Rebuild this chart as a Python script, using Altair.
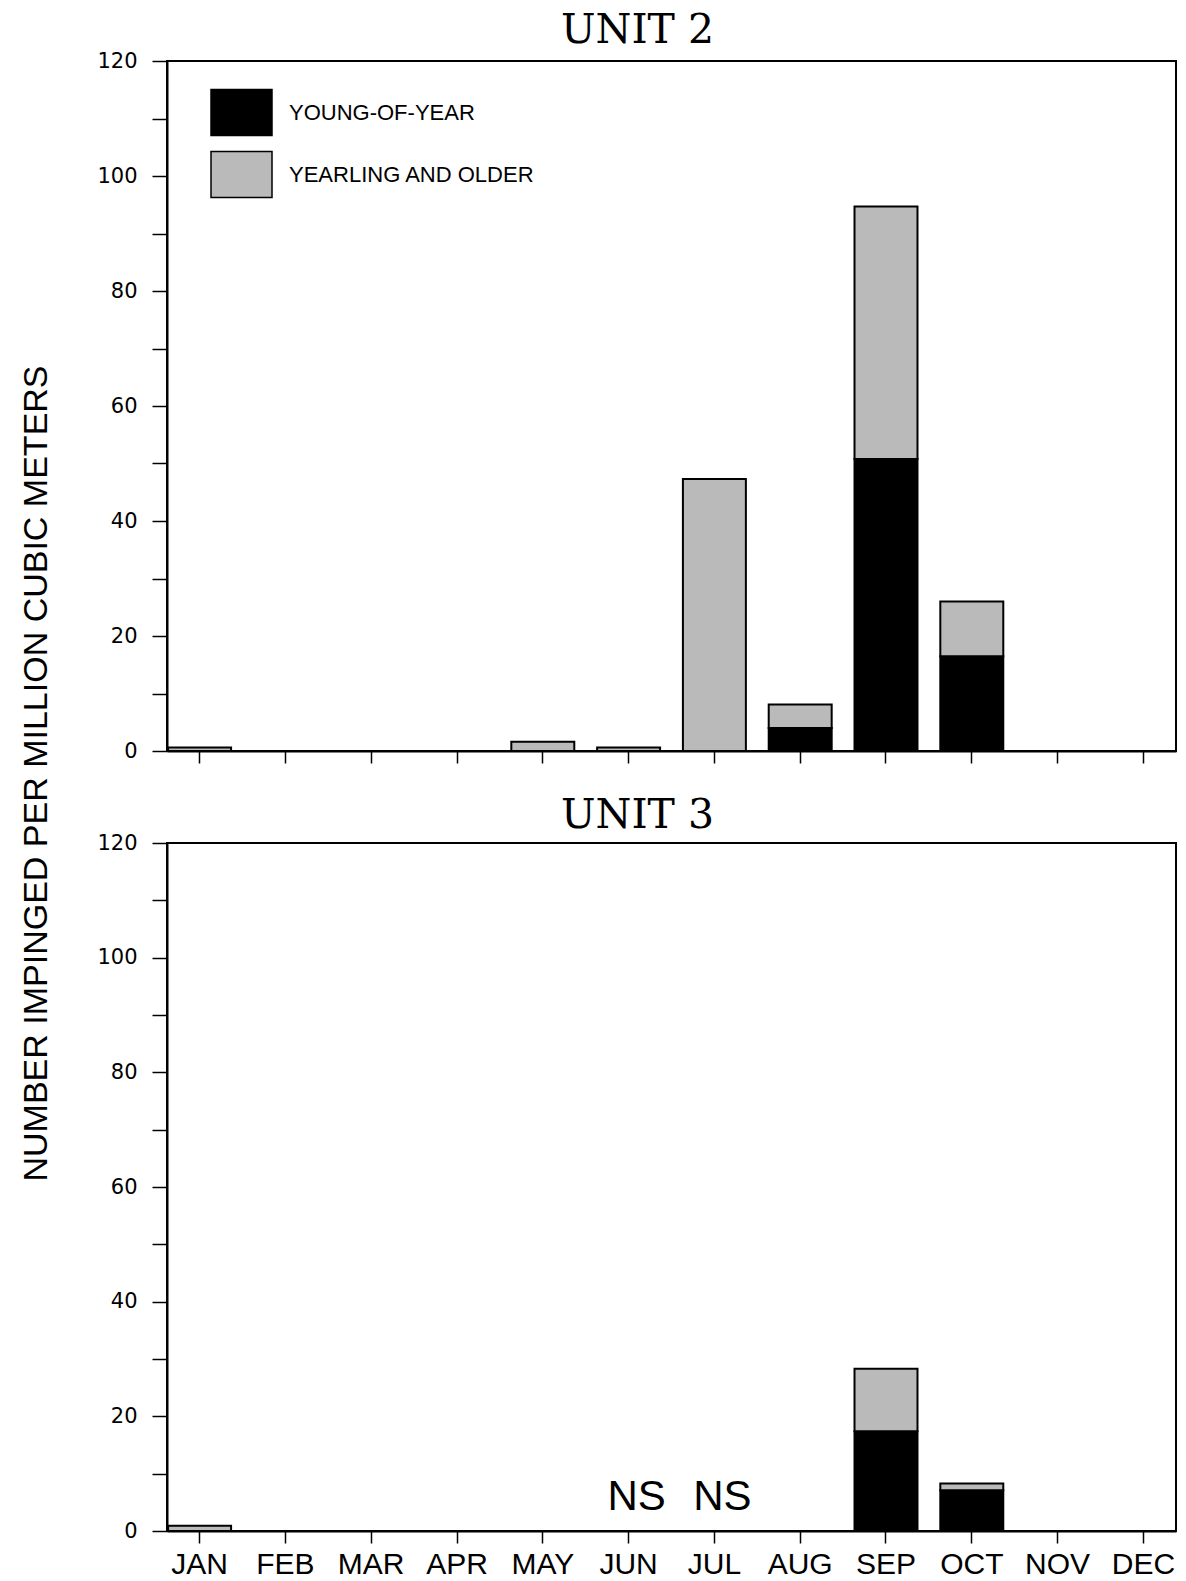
import altair as alt
import pandas as pd

months = ["JAN", "FEB", "MAR", "APR", "MAY", "JUN", "JUL", "AUG", "SEP", "OCT", "NOV", "DEC"]
stages = ["YOUNG-OF-YEAR", "YEARLING AND OLDER"]

unit2_yoy = [0, 0, 0, 0, 0, 0, 0, 4.0, 50.8, 16.5, 0, 0]
unit2_older = [0.6, 0, 0, 0, 1.6, 0.6, 47.3, 4.1, 43.9, 9.5, 0, 0]

unit3_yoy = [0, 0, 0, 0, 0, 0, 0, 0, 17.4, 7.1, 0, 0]
unit3_older = [0.9, 0, 0, 0, 0, 0, 0, 0, 10.9, 1.2, 0, 0]

ns_months = ["JUN", "JUL"]
y_ticks = [0, 10, 20, 30, 40, 50, 60, 70, 80, 90, 100, 110, 120]
y_title = "NUMBER IMPINGED PER MILLION CUBIC METERS"


def make_frame(yoy, older):
    rows = []
    for m, a, b in zip(months, yoy, older):
        if a > 0:
            rows.append({"month": m, "stage": stages[0], "value": a, "ord": 0})
        if b > 0:
            rows.append({"month": m, "stage": stages[1], "value": b, "ord": 1})
    return pd.DataFrame(rows)


def x_enc(show_labels):
    return alt.X(
        "month:N",
        sort=months,
        scale=alt.Scale(domain=months, paddingInner=0.266, paddingOuter=0.013),
        axis=alt.Axis(
            title=None,
            labels=show_labels,
            labelAngle=0,
            labelFont="Liberation Sans",
            labelFontSize=30,
            labelColor="black",
            labelPadding=6,
            tickSize=12,
            tickColor="black",
            tickWidth=1.5,
            domainColor="black",
            domainWidth=2,
        ),
    )


def y_enc(with_title):
    kw = dict(
        values=y_ticks,
        labelExpr="datum.value % 20 == 0 ? datum.label : ''",
        labelFont="DejaVu Sans",
        labelFontSize=21,
        labelColor="black",
        labelPadding=15,
        tickSize=15,
        tickColor="black",
        tickWidth=1.5,
        domainColor="black",
        domainWidth=2,
        grid=False,
    )
    if with_title:
        kw.update(
            title=y_title,
            titleFont="Liberation Sans",
            titleFontSize=34,
            titleFontWeight="normal",
            titleColor="black",
            titleAngle=270,
            titleAlign="center",
            titleBaseline="alphabetic",
            titleX=-121,
            titleY=712,
        )
    else:
        kw.update(title=None)
    return alt.Y(
        "value:Q",
        stack="zero",
        scale=alt.Scale(domain=[0, 120], nice=False),
        axis=alt.Axis(**kw),
    )


def color_enc(show_legend):
    legend = None
    if show_legend:
        legend = alt.Legend(
            title=None,
            orient="none",
            legendX=43,
            legendY=20,
            padding=0,
            symbolType="M-1,-0.754H1V0.754H-1Z",
            symbolSize=3721,
            symbolStrokeColor="black",
            symbolStrokeWidth=1.5,
            symbolOpacity=1,
            labelFont="Liberation Sans",
            labelFontSize=22,
            labelColor="black",
            labelOffset=16,
            labelLimit=500,
            rowPadding=4,
        )
    return alt.Color(
        "stage:N",
        scale=alt.Scale(domain=stages, range=["black", "#bababa"]),
        legend=legend,
    )


def title(text, dy):
    return alt.TitleParams(
        text,
        font="DejaVu Serif",
        fontSize=41,
        fontWeight="normal",
        color="black",
        anchor="middle",
        dx=-34,
        dy=dy,
        offset=0,
        baseline="alphabetic",
    )


bars2 = (
    alt.Chart(make_frame(unit2_yoy, unit2_older))
    .mark_bar(stroke="black", strokeWidth=2, opacity=1)
    .encode(
        x=x_enc(False),
        y=y_enc(True),
        color=color_enc(True),
        order=alt.Order("ord:Q", sort="ascending"),
    )
)

top = bars2.properties(width=1009, height=690, title=title("UNIT 2", 34))

bars3 = (
    alt.Chart(make_frame(unit3_yoy, unit3_older))
    .mark_bar(stroke="black", strokeWidth=2, opacity=1)
    .encode(
        x=x_enc(True),
        y=y_enc(False),
        color=color_enc(False),
        order=alt.Order("ord:Q", sort="ascending"),
    )
)

ns_text = (
    alt.Chart(pd.DataFrame({"month": ns_months, "label": ["NS"] * len(ns_months)}))
    .mark_text(font="Liberation Sans", fontSize=42, color="black", baseline="alphabetic", dy=-21, dx=8)
    .encode(x=alt.X("month:N", sort=months), y=alt.datum(0), text="label:N")
)

bottom = alt.layer(bars3, ns_text).properties(width=1009, height=688, title=title("UNIT 3", 37))

chart = (
    alt.vconcat(top, bottom, spacing=92, bounds="flush")
    .resolve_scale(color="independent")
    .resolve_legend(color="independent")
    .properties(padding={"left": 10, "top": 1, "right": 0, "bottom": 0}, background="white")
    .configure_view(stroke="black", strokeWidth=2)
)

chart.save("out.html", embed_options={"renderer": "svg", "actions": False})
